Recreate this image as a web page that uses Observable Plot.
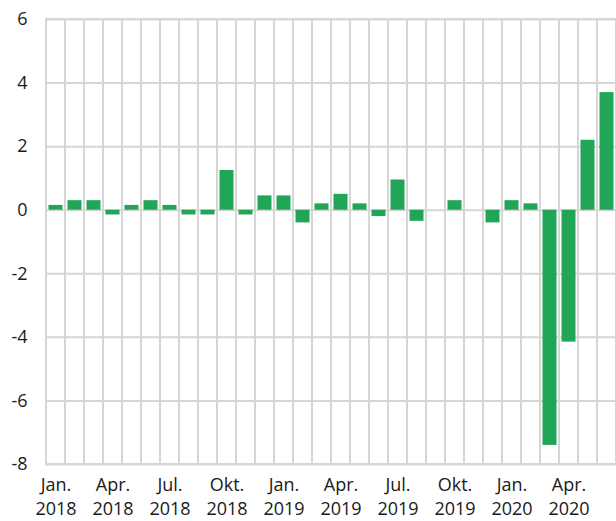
<!DOCTYPE html>
<html><head><meta charset="utf-8">
<script src="https://cdn.jsdelivr.net/npm/d3@7"></script>
<script src="https://cdn.jsdelivr.net/npm/@observablehq/plot@0.6"></script>
<style>html,body{margin:0;padding:0;background:#fff} svg{display:block}</style>
</head><body><div id="chart"></div>
<script>
const months = ["2018-01","2018-02","2018-03","2018-04","2018-05","2018-06","2018-07","2018-08","2018-09","2018-10","2018-11","2018-12",
                "2019-01","2019-02","2019-03","2019-04","2019-05","2019-06","2019-07","2019-08","2019-09","2019-10","2019-11","2019-12",
                "2020-01","2020-02","2020-03","2020-04","2020-05","2020-06"];
const values = [0.15,0.3,0.3,-0.15,0.15,0.3,0.15,-0.15,-0.15,1.25,-0.15,0.45,
                0.45,-0.4,0.2,0.5,0.2,-0.2,0.95,-0.35,0,0.3,0,-0.4,
                0.3,0.2,-7.4,-4.15,2.2,3.7];
const xTicks = ["2018-01","2018-04","2018-07","2018-10","2019-01","2019-04","2019-07","2019-10","2020-01","2020-04"];
const xTickLabels = ["Jan.\n2018","Apr.\n2018","Jul.\n2018","Okt.\n2018","Jan.\n2019","Apr.\n2019","Jul.\n2019","Okt.\n2019","Jan.\n2020","Apr.\n2020"];
const yTicks = [-8,-6,-4,-2,0,2,4,6];

const data = months.map((m, i) => ({month: m, value: values[i]}));
const xLabel = new Map(xTicks.map((t, i) => [t, xTickLabels[i]]));
const grid = "#d6d6d6";

const chart = Plot.plot({
  width: 616, height: 521,
  marginLeft: 45, marginRight: 0, marginTop: 19, marginBottom: 57,
  style: {fontFamily: "'Open Sans', sans-serif", fontSize: "18px", color: "#1a1a1a", background: "#fff"},
  x: {type: "band", domain: months, padding: 0, axis: null},
  y: {domain: [d3.min(yTicks), d3.max(yTicks)], axis: null},
  marks: [
    Plot.ruleY(yTicks, {stroke: grid, strokeWidth: 2}),
    Plot.barY(months, {x: d => d, y1: d3.min(yTicks), y2: d3.max(yTicks), fill: "none", stroke: grid, strokeWidth: 2}),
    Plot.barY(data, {x: "month", y: "value", fill: "#21a657", insetLeft: 2.5, insetRight: 2.5}),
    Plot.axisY(yTicks, {tickSize: 0, tickPadding: 18, fontSize: 18, tickFormat: d => String(d), label: null}),
    Plot.axisX(xTicks, {tickSize: 0, tickPadding: 9, fontSize: 18, lineHeight: 1.36, tickFormat: d => xLabel.get(d), label: null})
  ]
});
document.getElementById("chart").append(chart);
</script>
</body></html>
